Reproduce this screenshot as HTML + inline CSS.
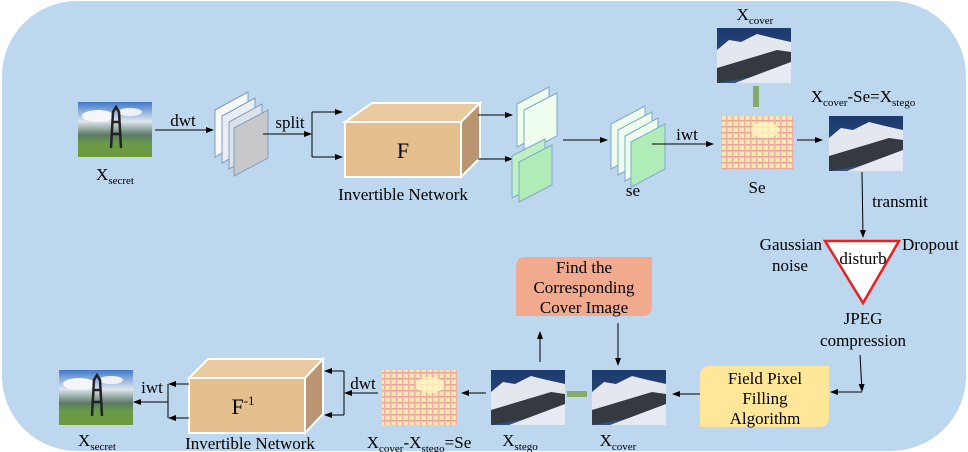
<!DOCTYPE html>
<html><head><meta charset="utf-8"><style>
html,body{margin:0;padding:0;background:#fff}
svg{display:block;font-family:"Liberation Serif",serif}
</style></head><body>
<svg width="968" height="452" viewBox="0 0 968 452" xmlns="http://www.w3.org/2000/svg">
<defs>
<marker id="a" markerWidth="8" markerHeight="8" refX="7" refY="4" orient="auto" markerUnits="userSpaceOnUse"><path d="M0,1 L8,4 L0,7 z" fill="#000"/></marker>
<linearGradient id="sky" x1="0" y1="0" x2="0" y2="1"><stop offset="0" stop-color="#3f78c8"/><stop offset="0.35" stop-color="#dfe6ee"/><stop offset="0.6" stop-color="#5c7a66"/><stop offset="0.75" stop-color="#6a9a48"/><stop offset="1" stop-color="#6e9a3c"/></linearGradient>
<linearGradient id="mtn" x1="0" y1="0" x2="0" y2="1"><stop offset="0" stop-color="#1d3a6e"/><stop offset="1" stop-color="#30507e"/></linearGradient>
<pattern id="nz" width="6" height="6" patternUnits="userSpaceOnUse"><rect width="6" height="6" fill="#f8e8a8"/><rect width="6" height="1.5" fill="#e8a0a0"/><rect width="1.5" height="6" fill="#eab0a8"/></pattern>
<g id="secret"><rect width="74" height="55" fill="url(#sky)"/><ellipse cx="20" cy="14" rx="16" ry="6" fill="#f4f6fa"/><ellipse cx="52" cy="10" rx="12" ry="4" fill="#eef2f8"/><path d="M33,46 L35,10 L38,5 L41,10 L43,46 M34,20 L42,20 M34,32 L42,32" fill="none" stroke="#222" stroke-width="2.5"/></g>
<g id="cover"><rect width="74" height="55" fill="url(#mtn)"/><path d="M0,22 L12,12 L24,14 L40,6 L56,10 L74,14 L74,30 L50,38 L30,46 L0,52 z" fill="#e4e8ee"/><path d="M0,40 L20,34 L40,28 L60,22 L74,24 L74,34 L40,48 L0,55 z" fill="#353a40"/><path d="M18,55 L74,34 L74,55 z" fill="#e6eaf2"/></g>
</defs>
<rect x="2" y="1" width="964" height="450" rx="75" ry="75" fill="#bdd7ee"/>

<g font-size="17">
<use href="#secret" x="78" y="102"/>
<text x="115" y="180" text-anchor="middle">X<tspan font-size="11" dy="4">secret</tspan></text>
<line x1="155" y1="130" x2="213" y2="130" stroke="#000" marker-end="url(#a)"/>
<text x="183" y="126" text-anchor="middle">dwt</text>
<g stroke="#7f9fc0" stroke-width="1">
<path d="M215,110 L248,92 L248,139 L215,157 z" fill="#f6f8fa"/>
<path d="M222,116 L255,98 L255,145 L222,163 z" fill="#eaeef2"/>
<path d="M229,122 L262,104 L262,151 L229,169 z" fill="#dde2e8"/>
<path d="M234,128 L268,110 L268,158 L234,176 z" fill="#c8c8ca"/>
</g>
<line x1="263" y1="134" x2="311" y2="134" stroke="#000" marker-end="url(#a)"/>
<text x="290" y="128" text-anchor="middle">split</text>
<path d="M312,112 L312,157" stroke="#000" fill="none"/>
<line x1="312" y1="112" x2="342" y2="112" stroke="#000" marker-end="url(#a)"/>
<line x1="312" y1="157" x2="342" y2="157" stroke="#000" marker-end="url(#a)"/>
<g stroke="#fff" stroke-width="2">
<path d="M345,122 L372,103 L480,103 L461,122 z" fill="#e9c9a0"/>
<path d="M461,122 L480,103 L480,158 L461,177 z" fill="#b99571"/>
<rect x="345" y="122" width="116" height="55" fill="#e6bf8e"/>
</g>
<text x="403" y="158" font-size="22" text-anchor="middle">F</text>
<text x="403" y="200" text-anchor="middle">Invertible Network</text>
<line x1="478" y1="115" x2="512" y2="115" stroke="#000" marker-end="url(#a)"/>
<line x1="478" y1="159" x2="512" y2="159" stroke="#000" marker-end="url(#a)"/>
<g stroke="#7fa8c8" stroke-width="1">
<path d="M517,104 L549,87 L549,130 L517,147 z" fill="#eefcee"/>
<path d="M524,110 L557,93 L557,136 L524,153 z" fill="#eefcee"/>
<path d="M512,156 L545,139 L545,181 L512,198 z" fill="#bff0c4"/>
<path d="M519,162 L552,145 L552,185 L519,202 z" fill="#b0ecb8"/>
</g>
<line x1="563" y1="140" x2="607" y2="140" stroke="#000" marker-end="url(#a)"/>
<g stroke="#7fa8c8" stroke-width="1">
<path d="M611,124 L645,106 L645,151 L611,169 z" fill="#eefcee"/>
<path d="M618,130 L652,112 L652,157 L618,175 z" fill="#eefcee"/>
<path d="M625,136 L658,118 L658,163 L625,181 z" fill="#eefcee"/>
<path d="M631,142 L665,124 L665,169 L631,187 z" fill="#b0ecb8"/>
</g>
<text x="633" y="196" text-anchor="middle">se</text>
<line x1="652" y1="144" x2="713" y2="144" stroke="#000" marker-end="url(#a)"/>
<text x="687" y="140" text-anchor="middle">iwt</text>
<rect x="721" y="116" width="73" height="54" fill="url(#nz)"/>
<ellipse cx="765" cy="130" rx="14" ry="8" fill="#fff8c0" opacity="0.8"/>
<text x="757" y="193" text-anchor="middle">Se</text>
<use href="#cover" x="717" y="28"/>
<text x="755" y="20" text-anchor="middle">X<tspan font-size="11" dy="4">cover</tspan></text>
<rect x="753" y="86" width="6" height="21" fill="#85aa6b"/>
<line x1="797" y1="140" x2="822" y2="140" stroke="#000" marker-end="url(#a)"/>
<text x="863" y="102" text-anchor="middle">X<tspan font-size="11" dy="4">cover</tspan><tspan dy="-4">-Se=X</tspan><tspan font-size="11" dy="4">stego</tspan></text>
<use href="#cover" x="829" y="116"/>
<line x1="862" y1="172" x2="863" y2="237" stroke="#000" marker-end="url(#a)"/>
<text x="900" y="207" text-anchor="middle">transmit</text>
<path d="M825,241 L899,241 L863,303 z" fill="#fff" stroke="#e82020" stroke-width="2.5"/>
<text x="863" y="264" text-anchor="middle">disturb</text>
<text x="822" y="250" text-anchor="end">Gaussian</text>
<text x="790" y="271" text-anchor="middle">noise</text>
<text x="902" y="250">Dropout</text>
<text x="863" y="324" text-anchor="middle">JPEG</text>
<text x="863" y="346" text-anchor="middle">compression</text>
<line x1="860" y1="355" x2="862" y2="391" stroke="#000" marker-end="url(#a)"/>
<line x1="862" y1="392" x2="831" y2="392" stroke="#000" marker-end="url(#a)"/>

<path d="M710,366 L829,366 L829,417 Q829,427 819,427 L700,427 L700,376 Q700,366 710,366 z" fill="#ffe699"/>
<text x="765" y="384" text-anchor="middle">Field Pixel</text>
<text x="765" y="404" text-anchor="middle">Filling</text>
<text x="765" y="424" text-anchor="middle">Algorithm</text>
<line x1="700" y1="394" x2="673" y2="394" stroke="#000" marker-end="url(#a)"/>
<use href="#cover" x="592" y="370"/>
<text x="618" y="446" text-anchor="middle">X<tspan font-size="11" dy="4">cover</tspan></text>
<rect x="567" y="391" width="20" height="6" fill="#85aa6b"/>
<use href="#cover" x="491" y="370"/>
<text x="520" y="446" text-anchor="middle">X<tspan font-size="11" dy="4">stego</tspan></text>
<line x1="540" y1="362" x2="540" y2="332" stroke="#000" marker-end="url(#a)"/>
<path d="M526,257 L652,257 L652,306 Q652,316 642,316 L516,316 L516,267 Q516,257 526,257 z" fill="#f2aa8e"/>
<text x="584" y="273" text-anchor="middle">Find the</text>
<text x="584" y="293" text-anchor="middle">Corresponding</text>
<text x="584" y="313" text-anchor="middle">Cover Image</text>
<line x1="618" y1="323" x2="618" y2="365" stroke="#000" marker-end="url(#a)"/>
<line x1="486" y1="393" x2="462" y2="393" stroke="#000" marker-end="url(#a)"/>
<rect x="382" y="370" width="75" height="55" fill="url(#nz)"/>
<ellipse cx="430" cy="385" rx="14" ry="8" fill="#fff8c0" opacity="0.8"/>
<text x="419" y="448" text-anchor="middle">X<tspan font-size="11" dy="4">cover</tspan><tspan dy="-4">-X</tspan><tspan font-size="11" dy="4">stego</tspan><tspan dy="-4">=Se</tspan></text>
<line x1="378" y1="393" x2="345" y2="393" stroke="#000" marker-end="url(#a)"/>
<text x="363" y="389" text-anchor="middle">dwt</text>
<path d="M344,371 L344,415" stroke="#000" fill="none"/>
<line x1="344" y1="371" x2="325" y2="371" stroke="#000" marker-end="url(#a)"/>
<line x1="344" y1="415" x2="325" y2="415" stroke="#000" marker-end="url(#a)"/>
<g stroke="#fff" stroke-width="2">
<path d="M189,378 L208,359 L323,359 L305,378 z" fill="#e9c9a0"/>
<path d="M305,378 L323,359 L323,414 L305,433 z" fill="#b99571"/>
<rect x="189" y="378" width="116" height="55" fill="#e6bf8e"/>
</g>
<text x="243" y="414" font-size="22" text-anchor="middle">F<tspan font-size="13" dy="-9">-1</tspan></text>
<text x="250" y="449" text-anchor="middle">Invertible Network</text>
<line x1="189" y1="384" x2="169" y2="384" stroke="#000" marker-end="url(#a)"/>
<line x1="189" y1="418" x2="169" y2="418" stroke="#000" marker-end="url(#a)"/>
<path d="M168,384 L168,418" stroke="#000" fill="none"/>
<line x1="168" y1="402" x2="134" y2="402" stroke="#000" marker-end="url(#a)"/>
<text x="152" y="393" text-anchor="middle">iwt</text>
<use href="#secret" x="59" y="370"/>
<text x="97" y="446" text-anchor="middle">X<tspan font-size="11" dy="4">secret</tspan></text>
</g>
</svg>
</body></html>
